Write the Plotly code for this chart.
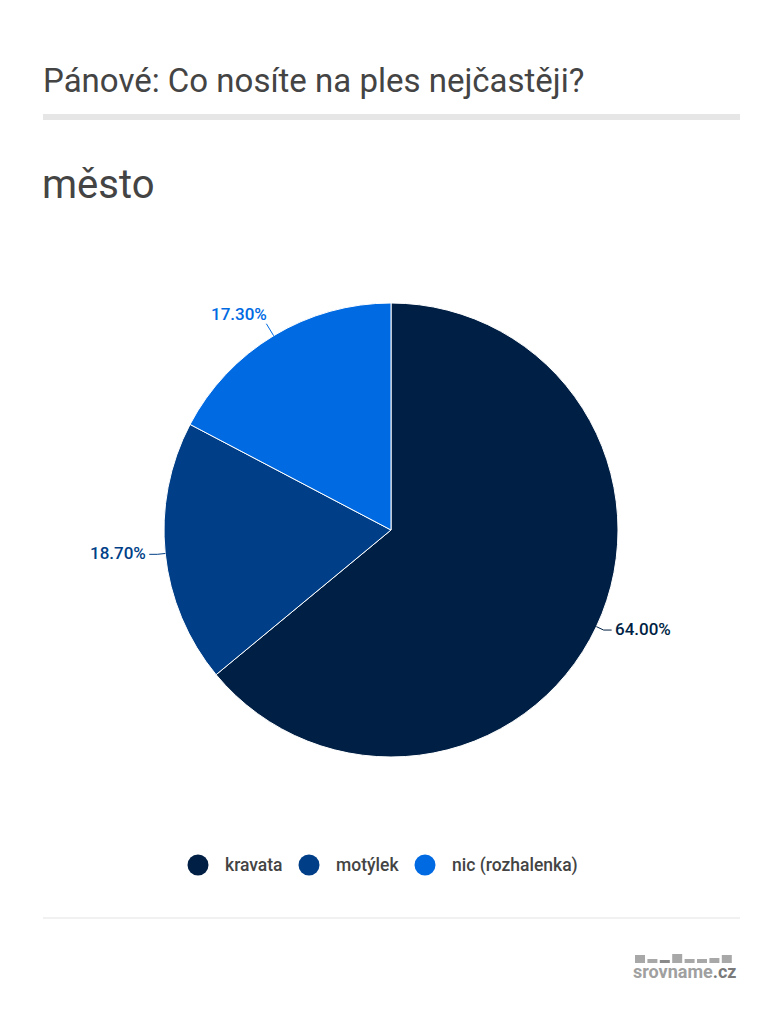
import math
import plotly.graph_objects as go

# ---- data ----
categories = ["kravata", "motýlek", "nic (rozhalenka)"]
values = [64.0, 18.7, 17.3]
colors = ["#001f44", "#003f87", "#006ae3"]
title_text = "Pánové: Co nosíte na ples nejčastěji?"
subtitle_text = "město"

W, H = 783, 1024
FONT = "Roboto, 'Open Sans', sans-serif"
TXT = "#444444"

def px(x):
    return x / W

def py(y):
    return 1 - y / H

# pie geometry (pixels)
cx, cy, r = 391, 530, 227

fig = go.Figure()
fig.add_trace(go.Pie(
    labels=categories, values=values, sort=False, direction="clockwise", rotation=0,
    marker=dict(colors=colors, line=dict(color="white", width=1)),
    textinfo="none", hoverinfo="label+percent", showlegend=False,
    domain=dict(x=[px(cx - r), px(cx + r)], y=[py(cy + r), py(cy - r)]),
))

shapes = []
annotations = []

# labels with leader lines computed from values
total = sum(values)
start = 0.0
for cat, v, col in zip(categories, values, colors):
    frac = v / total
    mid = (start + frac / 2) * 2 * math.pi
    start += frac
    dx, dy = math.sin(mid), -math.cos(mid)
    x0, y0 = cx + r * dx, cy + r * dy
    label = f"{v:.2f}%"
    lf = dict(family=FONT, size=17, color=col, weight=500)
    if abs(dy) > abs(dx):
        ex, ey = cx + (r + 14) * dx, cy + (r + 14) * dy
        shapes.append(dict(type="line", xref="paper", yref="paper",
                           x0=px(x0), y0=py(y0), x1=px(ex), y1=py(ey),
                           line=dict(color=col, width=1)))
        annotations.append(dict(x=px(ex + (3 if dx > 0 else 3)), y=py(ey + 2), xref="paper", yref="paper",
                                text=label, showarrow=False,
                                xanchor="left" if dx > 0 else "right", yanchor="bottom",
                                font=lf))
    else:
        ex, ey = cx + (r + 8) * dx, cy + (r + 8) * dy
        tx = ex + (8 if dx > 0 else -8)
        shapes.append(dict(type="path", xref="paper", yref="paper",
                           path=f"M {px(x0)} {py(y0)} L {px(ex)} {py(ey)} L {px(tx)} {py(ey)}",
                           line=dict(color=col, width=1)))
        annotations.append(dict(x=px(tx + (1 if dx > 0 else -1)), y=py(ey - 1), xref="paper", yref="paper",
                                text=label, showarrow=False,
                                xanchor="left" if dx > 0 else "right", yanchor="middle",
                                font=lf))

# title, separator, subtitle
annotations.append(dict(x=px(41), y=py(80), xref="paper", yref="paper", text=title_text,
                        showarrow=False, xanchor="left", yanchor="middle",
                        font=dict(family=FONT, size=33, color=TXT)))
shapes.append(dict(type="rect", xref="paper", yref="paper", x0=px(43), x1=px(740),
                   y0=py(114), y1=py(120), fillcolor="#e6e6e6", line=dict(width=0)))
annotations.append(dict(x=px(40), y=py(184), xref="paper", yref="paper", text=subtitle_text,
                        showarrow=False, xanchor="left", yanchor="middle",
                        font=dict(family=FONT, size=40, color=TXT)))

# legend (manual circles)
legend_x = [198, 309, 425]
for lx, cat, col in zip(legend_x, categories, colors):
    shapes.append(dict(type="circle", xref="paper", yref="paper",
                       x0=px(lx - 10.5), x1=px(lx + 10.5), y0=py(865 - 10.5), y1=py(865 + 10.5),
                       fillcolor=col, line=dict(width=0)))
    annotations.append(dict(x=px(lx + 25), y=py(865), xref="paper", yref="paper", text=cat,
                            showarrow=False, xanchor="left", yanchor="middle",
                            font=dict(family=FONT, size=17.5, color=TXT, weight=500)))

# bottom separator
shapes.append(dict(type="line", xref="paper", yref="paper", x0=px(43), x1=px(740),
                   y0=py(918), y1=py(918), line=dict(color="#e3e3e3", width=1)))

# logo
block_h = [8, 4, 3, 9, 4, 4, 5, 8]
for i, bh in enumerate(block_h):
    bx = 635 + i * 12.4
    shapes.append(dict(type="rect", xref="paper", yref="paper", x0=px(bx), x1=px(bx + 10),
                       y0=py(963), y1=py(963 - bh),
                       fillcolor="#8a8a8a" if i == 2 else "#a8a8a8", line=dict(width=0)))
annotations.append(dict(x=px(739), y=py(971), xref="paper", yref="paper",
                        text="<b>srovname<span style='color:#7a7a7a'>.cz</span></b>",
                        showarrow=False, xanchor="right", yanchor="middle",
                        font=dict(family=FONT, size=18, color="#a0a0a0")))

fig.update_layout(
    width=W, height=H, margin=dict(l=0, r=0, t=0, b=0),
    paper_bgcolor="white", plot_bgcolor="white",
    shapes=shapes, annotations=annotations, showlegend=False,
)

fig.write_html("out.html", config={"displayModeBar": False},
               post_script="document.body.style.margin='0px';")
